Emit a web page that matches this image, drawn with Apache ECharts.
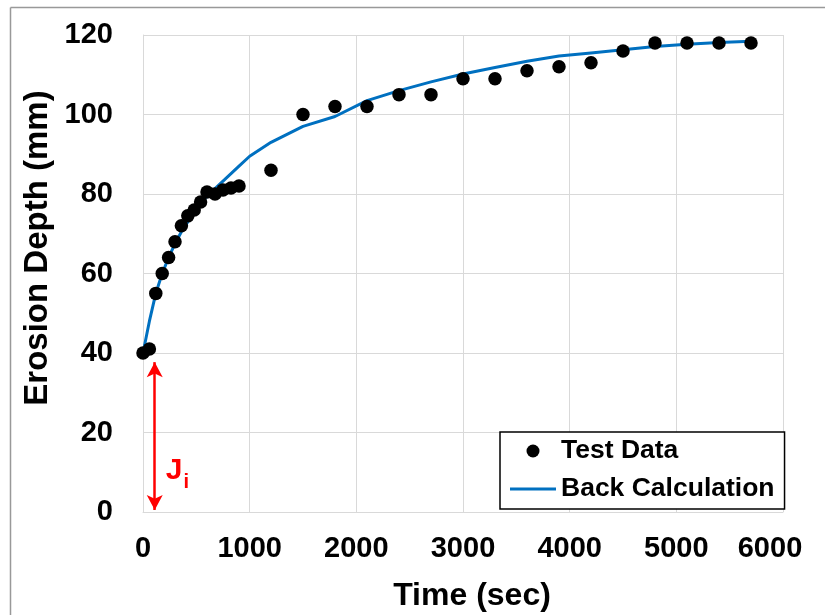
<!DOCTYPE html>
<html>
<head>
<meta charset="utf-8">
<script src="https://cdn.jsdelivr.net/npm/echarts@6/dist/echarts.min.js"></script>
<style>
html,body{margin:0;padding:0;background:#fff;}
#c{width:825px;height:615px;}
</style>
</head>
<body>
<div id="c"></div>
<script>
// ---- data ----
var testTime  = [0, 60, 120, 180, 240, 300, 360, 420, 480, 540, 600, 675, 750, 825, 900, 1200, 1500, 1800, 2100, 2400, 2700, 3000, 3300, 3600, 3900, 4200, 4500, 4800, 5100, 5400, 5700];
var testDepth = [40, 41, 55, 60, 64, 68, 72, 74.5, 76, 78, 80.5, 80, 81, 81.5, 82, 86, 100, 102, 102, 105, 105, 109, 109, 111, 112, 113, 116, 118, 118, 118, 118];
var calcTime  = [0, 60, 120, 180, 240, 300, 360, 420, 480, 540, 600, 700, 800, 900, 1000, 1200, 1500, 1800, 2100, 2400, 2700, 3000, 3300, 3600, 3900, 4200, 4500, 4800, 5100, 5400, 5700];
var calcDepth = [40, 48, 55, 60, 64, 67.5, 70.5, 73, 75.5, 77.5, 79.5, 82, 84.5, 87, 89.5, 93, 97, 99.5, 103.5, 106, 108.2, 110.2, 111.8, 113.4, 114.7, 115.5, 116.3, 117.1, 117.7, 118.1, 118.4];
var seriesNames = ['Test Data', 'Back Calculation'];
var xTitle = 'Time (sec)';
var yTitle = 'Erosion Depth (mm)';
var arrowTime = 110;
var arrowFrom = 0.5;
var arrowTo = 37.7;
var arrowLabelDepth = 10.5;

var FONT = 'Liberation Sans';
var chart = echarts.init(document.getElementById('c'), null, {renderer: 'canvas'});

var scatterData = testTime.map(function (t, i) { return [t, testDepth[i]]; });
var lineData = calcTime.map(function (t, i) { return [t, calcDepth[i]]; });

var gridColor = '#d9d9d9';
var xMax = 6000;

chart.setOption({
  backgroundColor: '#ffffff',
  animation: false,
  grid: {left: 143, right: 42, top: 35, bottom: 103, containLabel: false},
  xAxis: {
    type: 'value', min: 0, max: xMax, interval: 1000,
    axisLine: {show: true, lineStyle: {color: gridColor, width: 1}},
    axisTick: {show: false},
    splitLine: {show: true, lineStyle: {color: gridColor, width: 1}},
    axisLabel: {color: '#000', fontFamily: FONT, fontWeight: 'bold', fontSize: 29, margin: 22,
      formatter: function (v) { return v === xMax ? '{m|' + v + '}' : String(v); },
      rich: {m: {color: '#000', fontFamily: FONT, fontWeight: 'bold', fontSize: 29, padding: [0, 26, 0, 0]}}}
  },
  yAxis: {
    type: 'value', min: 0, max: 120, interval: 20,
    axisLine: {show: true, lineStyle: {color: gridColor, width: 1}},
    axisTick: {show: false},
    splitLine: {show: true, lineStyle: {color: gridColor, width: 1}},
    axisLabel: {color: '#000', fontFamily: FONT, fontWeight: 'bold', fontSize: 29, margin: 30,
      formatter: function (v) { return String(v); }}
  },
  legend: {
    orient: 'vertical',
    left: 500, top: 432,
    backgroundColor: '#fff',
    borderColor: '#000', borderWidth: 1.5, borderRadius: 0,
    padding: [4, 10, 5, 10],
    itemWidth: 46, itemHeight: 13, itemGap: 8,
    textStyle: {color: '#000', fontFamily: FONT, fontWeight: 'bold', fontSize: 26.5, lineHeight: 30, padding: [0, 0, 0, 0]},
    data: [
      {name: seriesNames[0], icon: 'circle', itemStyle: {color: '#000', opacity: 1}},
      {name: seriesNames[1], icon: 'path://M0,0 L46,0 L46,3 L0,3 Z', itemStyle: {color: '#0070C0'}}
    ]
  },
  series: [
    {
      name: seriesNames[1], type: 'line', data: lineData, symbol: 'none', showSymbol: false, smooth: false,
      lineStyle: {color: '#0070C0', width: 3}, itemStyle: {color: '#0070C0'}, z: 2,
      markLine: {
        silent: true, symbol: ['arrow', 'arrow'], symbolSize: [12, 15],
        lineStyle: {color: '#ff0000', width: 2.5, type: 'solid', opacity: 1},
        itemStyle: {color: '#ff0000'},
        label: {show: false},
        data: [[{coord: [arrowTime, arrowFrom]}, {coord: [arrowTime, arrowTo]}]]
      }
    },
    {
      name: seriesNames[0], type: 'scatter', data: scatterData, symbol: 'circle', symbolSize: 13.5,
      itemStyle: {color: '#000', opacity: 1}, z: 3
    }
  ]
});

var jp = chart.convertToPixel({gridIndex: 0}, [arrowTime, arrowLabelDepth]);
var grid = chart.getModel().getComponent('grid').coordinateSystem.getRect();
chart.setOption({
  graphic: [
    {type: 'line', shape: {x1: 10.5, y1: 7.5, x2: 825, y2: 7.5}, style: {stroke: '#999', lineWidth: 1.5}, silent: true},
    {type: 'line', shape: {x1: 10.5, y1: 7.5, x2: 10.5, y2: 615}, style: {stroke: '#999', lineWidth: 1.5}, silent: true},
    {type: 'text', x: grid.x + grid.width / 2 + 9, y: 596,
      style: {text: xTitle, fill: '#000', font: 'bold 32px "' + FONT + '"', textAlign: 'center', textVerticalAlign: 'middle'}},
    {type: 'text', x: 38, y: 248, rotation: Math.PI / 2,
      style: {text: yTitle, fill: '#000', font: 'bold 33px "' + FONT + '"', textAlign: 'center', textVerticalAlign: 'middle'}},
    {type: 'text', x: jp[0] + 11, y: jp[1],
      style: {
        text: '{j|J}{i|i}', textVerticalAlign: 'middle',
        rich: {
          j: {fill: '#ff0000', font: 'bold 30px "' + FONT + '"', verticalAlign: 'bottom'},
          i: {fill: '#ff0000', font: 'bold 20px "' + FONT + '"', verticalAlign: 'bottom', padding: [0, 0, -7, 1]}
        }
      }}
  ]
});
</script>
</body>
</html>
